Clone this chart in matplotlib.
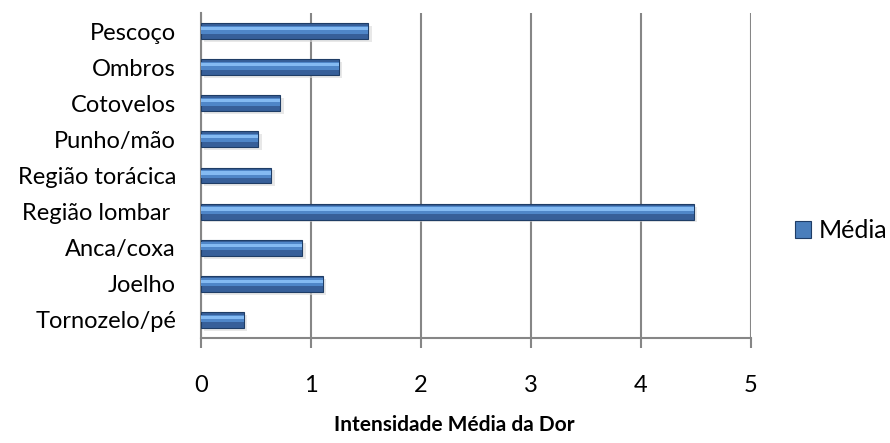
import matplotlib
matplotlib.use("Agg")
import matplotlib.pyplot as plt
from matplotlib.patches import Patch
import numpy as np

categories = ["Pescoço", "Ombros", "Cotovelos", "Punho/mão", "Região torácica",
              "Região lombar ", "Anca/coxa", "Joelho", "Tornozelo/pé"]
media = [1.52, 1.25, 0.72, 0.52, 0.64, 4.48, 0.92, 1.11, 0.39]
xticks = [0, 1, 2, 3, 4, 5]
series_name = "Média"
xlabel = "Intensidade Média da Dor"

plt.rcParams['font.family'] = ['Lato', 'DejaVu Sans']

fig = plt.figure(figsize=(8.9, 4.43), dpi=100)
ax = fig.add_axes([201/890, 1 - 338/443, (751-201)/890, (338-13)/443])

n = len(categories)
y = np.arange(n)[::-1]
h = 0.44
# shadow
ax.barh(y - 0.08, media, height=h, left=0.03, color="#d9d9d9", zorder=2, alpha=0.6)
# main bar
ax.barh(y, media, height=h, color="#375F99", edgecolor="#1F3D66", linewidth=0.8, zorder=3)
# lighter middle
ax.barh(y + 0.04, media, height=h*0.5, color="#4F86C8", zorder=4, linewidth=0)
# highlight stripe
ax.barh(y + 0.07, media, height=h*0.2, color="#84BAF2", zorder=5, linewidth=0)

ax.set_xlim(0, 5)
ax.set_ylim(-0.5, n - 0.5)
ax.set_xticks(xticks)
ax.set_xticklabels([str(t) for t in xticks], fontsize=17)
ax.set_yticks(y)
ax.set_yticklabels(categories, fontsize=17)
ax.tick_params(axis='y', length=0, pad=18)
ax.tick_params(axis='x', length=7, width=1.5, color="#868686", pad=20)
ax.xaxis.grid(True, color="#868686", linewidth=1.5, zorder=0)
ax.set_axisbelow(True)
for s in ["top", "right"]:
    ax.spines[s].set_visible(False)
for s in ["left", "bottom"]:
    ax.spines[s].set_color("#868686")
    ax.spines[s].set_linewidth(1.5)

fig.text(454/890, 1 - 425/443, xlabel, fontsize=15, fontweight='bold',
         ha='center', va='center')

handle = Patch(facecolor="#4A7EBB", edgecolor="#1F3D66", linewidth=0.8)
fig.legend([handle], [series_name], loc="center left", bbox_to_anchor=(795/890, 1 - 231/443),
           frameon=False, fontsize=18, handlelength=0.65, handleheight=0.65, handletextpad=0.3,
           borderpad=0, borderaxespad=0)

fig.savefig("out.png", dpi=100)
